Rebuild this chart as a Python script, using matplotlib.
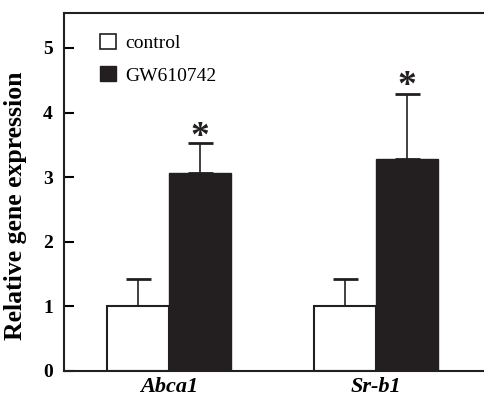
import numpy as np
import matplotlib
matplotlib.use("Agg")
import matplotlib.pyplot as plt
from matplotlib.patches import Rectangle

# data
genes = ["Abca1", "Sr-b1"]
control = [1.0, 1.0]
control_err = [0.42, 0.42]
gw = [3.07, 3.28]
gw_err = [0.46, 1.01]
star_y = [3.34, 4.13]

plt.rcParams['font.family'] = ['Liberation Serif', 'DejaVu Serif']

fig = plt.figure(figsize=(4.85, 3.97), dpi=100)
ax = fig.add_axes([0.132, 0.0655, 0.868, 0.9015])

x = np.arange(len(genes))
w = 0.30
dark = '#231f20'

ax.bar(x - w / 2, control, w, color='white', edgecolor=dark, linewidth=1.5, zorder=2)
ax.bar(x + w / 2, gw, w, color=dark, edgecolor=dark, linewidth=1.0, zorder=2)
ax.errorbar(x - w / 2, control, yerr=[np.zeros(2), control_err], fmt='none',
            ecolor=dark, elinewidth=1.2, capsize=9, capthick=2.0, zorder=1)
ax.errorbar(x + w / 2, gw, yerr=[np.zeros(2), gw_err], fmt='none',
            ecolor=dark, elinewidth=1.2, capsize=9, capthick=2.0, zorder=1)

for xi, yi in zip(x + w / 2, star_y):
    ax.text(xi, yi, '*', ha='center', va='bottom', fontsize=27, fontweight='bold', color=dark)

ax.set_xlim(-0.51, 1.53)
ax.set_ylim(0, 5.54)
ax.set_yticks([0, 1, 2, 3, 4, 5])
ax.set_yticklabels(['0', '1', '2', '3', '4', '5'], fontweight='bold', fontsize=14)
ax.set_xticks(x)
ax.set_xticklabels(genes, fontweight='bold', fontstyle='italic', fontsize=16)
ax.tick_params(axis='y', direction='in', length=7, width=1.5, pad=8)
ax.tick_params(axis='x', length=0, pad=4)
ax.set_ylabel('Relative gene expression', fontweight='bold', fontsize=18.5)
ax.yaxis.set_label_coords(-0.087, 0.462)

ax.spines['right'].set_visible(False)
for s in ['left', 'top', 'bottom']:
    ax.spines[s].set_linewidth(1.5)
    ax.spines[s].set_color(dark)

handles = [Rectangle((0, 0), 1, 1, facecolor='white', edgecolor=dark, linewidth=1.2),
           Rectangle((0, 0), 1, 1, facecolor=dark, edgecolor=dark)]
ax.legend(handles, ['control', 'GW610742'], loc='upper left', bbox_to_anchor=(0.045, 0.99),
          frameon=False, fontsize=14, handlelength=0.8, handleheight=0.8,
          handletextpad=0.45, labelspacing=0.72)

fig.savefig('out.png', dpi=100)
